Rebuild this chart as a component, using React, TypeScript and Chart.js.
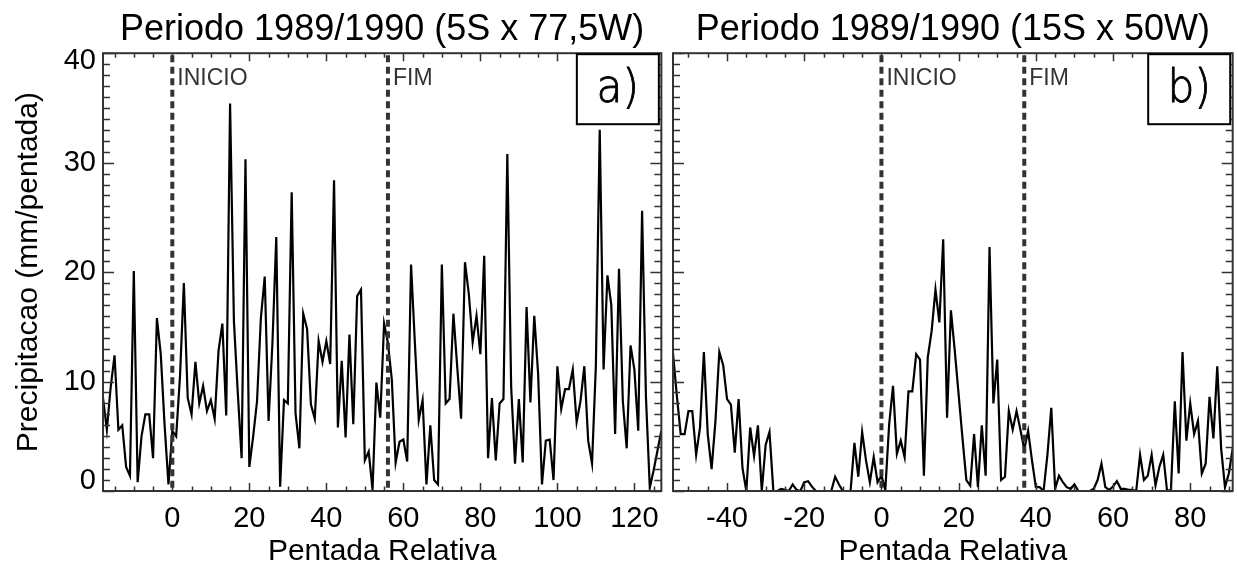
import React, { useEffect, useRef } from "react";
import { Chart, registerables } from "chart.js";

Chart.register(...registerables);

const FONT = '"Liberation Sans", Arial, Helvetica, sans-serif';

// Panel a) 5S x 77,5W : pentadas -18 .. 127
const precipA: number[] = [
  8.5, 5.6, 9.5, 12.4, 5.6, 6.0, 2.2, 1.4, 20.1, 0.8, 5.0, 7.0, 7.0, 3.0, 15.8, 12.5, 6.0, 0.6,
  5.5, 5.0, 10.5, 19.0, 8.5, 7.0, 11.8, 8.0, 9.6, 7.3,
  8.3, 6.6, 12.8, 15.3, 6.9, 35.4, 15.5, 9.0, 3.0, 30.3,
  2.2, 5.0, 8.2, 15.8, 19.6, 6.4, 13.5, 23.2, 0.4, 8.3,
  8.0, 27.3, 7.1, 3.9, 16.2, 14.8, 7.9, 6.6, 13.7, 11.8,
  13.7, 11.6, 28.4, 5.8, 11.9, 4.9, 14.3, 6.1, 17.8, 18.4,
  2.8, 3.6, 0.1, 9.9, 6.7, 15.3, 13.5, 10.2, 2.6, 4.5,
  4.7, 2.7, 20.7, 13.5, 6.5, 8.3, 0.6, 6.0, 1.0, 0.6,
  20.7, 8.0, 8.4, 16.2, 11.3, 6.6, 20.9, 18.0, 13.6, 16.0,
  12.5, 21.5, 3.0, 8.5, 2.8, 8.0, 8.4, 30.8, 9.5, 2.5,
  8.4, 2.6, 16.8, 8.1, 16.0, 10.7, 0.6, 4.6, 4.7, 1.0,
  11.4, 7.5, 9.3, 9.3, 11.1, 6.3, 8.2, 11.4, 4.6, 2.5,
  11.5, 33.0, 11.1, 19.7, 17.0, 5.2, 20.3, 8.2, 3.9, 13.3,
  11.1, 5.5, 25.6, 8.6, 0.3, 1.9, 3.7, 5.5,
];

// Panel b) 15S x 50W : pentadas -54 .. 91
const precipB: number[] = [
  12.6, 8.7, 5.2, 5.2, 7.3, 7.3, 3.3, 5.8, 12.7, 5.2,
  2.0, 6.4, 12.7, 11.5, 8.4, 7.9, 3.5, 8.4, 2.1, 0,
  5.8, 3.2, 6.0, 0, 4.2, 5.4, 0, 0, 0.2, 0.1,
  0, 0.6, 0.1, 0, 0.8, 0.9, 0.4, 0, 0, 0,
  0, 0, 1.3, 0.6, 0, 0, 0, 4.4, 1.3, 5.4,
  2.8, 0.8, 3.1, 0.8,
  1.4, 0.1, 6.1, 9.6, 3.4, 4.6, 3.1, 9.1, 9.1, 12.5,
  12.0, 1.4, 12.2, 14.6, 18.4, 15.4, 23.0, 6.7, 16.5, 12.8,
  8.8, 4.8, 1.0, 0.5, 5.2, 0.35, 6.0, 1.4, 22.3, 8.0,
  12.0, 1.0, 1.3, 7.3, 5.6, 7.3, 5.6, 3.8, 5.5, 2.8,
  0.35, 0.35, 0, 3.3, 7.6, 0.2, 1.4, 0.8, 0.35, 0.2,
  0.6, 0, 0, 0, 0, 0.2, 1.0, 2.5, 0.35, 0.1,
  0.4, 0.9, 0.2, 0.2, 0.1, 0.1, 0, 3.3, 1.0, 1.4,
  3.3, 0.5, 2.2, 3.3, 0, 0.1, 8.2, 1.6, 12.7, 4.6,
  8.0, 5.2, 6.4, 1.6, 2.5, 8.6, 4.8, 11.4, 3.9, 0.35,
  1.6, 3.9,
];

const firstPentadaA = -18;
const firstPentadaB = -54;
const pentadaA = precipA.map((_, i) => firstPentadaA + i);
const pentadaB = precipB.map((_, i) => firstPentadaB + i);

const xTicksA = [0, 20, 40, 60, 80, 100, 120];
const xTicksB = [-40, -20, 0, 20, 40, 60, 80];
const yTicks = [0, 10, 20, 30, 40];

const eventLabels = ["INICIO", "FIM"];
const eventsA = [0, 56];
const eventsB = [0, 37];

const titleA = "Periodo 1989/1990 (5S x 77,5W)";
const titleB = "Periodo 1989/1990 (15S x 50W)";
const xTitle = "Pentada Relativa";
const yTitle = "Precipitacao (mm/pentada)";
const letterA = "a)";
const letterB = "b)";

const framePlugin = {
  id: "idlFrame",
  afterDatasetsDraw(chart: any, _args: any, opts: any) {
    const { ctx, chartArea: ca, scales } = chart;
    const x = scales.x;
    const y = scales.y;
    ctx.save();

    // event dashed lines
    ctx.strokeStyle = "#333";
    ctx.lineWidth = 4;
    (opts.events as number[]).forEach((ev) => {
      const px = x.getPixelForValue(ev);
      ctx.setLineDash([7, 4.5]);
      ctx.beginPath();
      ctx.moveTo(px, ca.top + 2);
      ctx.lineTo(px, ca.bottom);
      ctx.stroke();
    });
    ctx.setLineDash([]);
    ctx.fillStyle = "#333";
    ctx.font = `23px ${FONT}`;
    ctx.textAlign = "left";
    ctx.textBaseline = "middle";
    (opts.events as number[]).forEach((ev, k) => {
      ctx.fillText(eventLabels[k], x.getPixelForValue(ev) + 5, ca.top + 25);
    });

    // frame
    ctx.strokeStyle = "#333";
    ctx.lineWidth = 2;
    ctx.strokeRect(ca.left, ca.top, ca.right - ca.left, ca.bottom - ca.top);

    // inward ticks
    ctx.lineWidth = 1.5;
    ctx.beginPath();
    for (let v = Math.ceil(x.min / 5) * 5; v <= x.max; v += 5) {
      const px = Math.round(x.getPixelForValue(v)) + 0.5;
      const len = v % 20 === 0 ? 8 : 4.5;
      ctx.moveTo(px, ca.bottom);
      ctx.lineTo(px, ca.bottom - len);
      ctx.moveTo(px, ca.top);
      ctx.lineTo(px, ca.top + len);
    }
    for (let v = Math.ceil(y.min); v <= y.max; v += 1) {
      const py = Math.round(y.getPixelForValue(v)) + 0.5;
      const len = v % 10 === 0 ? 11 : 7;
      ctx.moveTo(ca.left, py);
      ctx.lineTo(ca.left + len, py);
      ctx.moveTo(ca.right, py);
      ctx.lineTo(ca.right - len, py);
    }
    ctx.stroke();

    // y tick labels (kept inside the frame height like IDL)
    if (opts.yLabels) {
      ctx.fillStyle = "#000";
      ctx.font = `29px ${FONT}`;
      ctx.textAlign = "right";
      ctx.textBaseline = "middle";
      yTicks.forEach((v) => {
        let py = y.getPixelForValue(v);
        py = Math.min(Math.max(py, ca.top + 8), ca.bottom - 10);
        ctx.fillText(String(v), ca.left - 7, py);
      });
    }

    // panel letter box
    const bw = 82;
    const bh = 70;
    const bx = ca.right - 2.5 - bw;
    const by = ca.top + 1;
    ctx.fillStyle = "#fff";
    ctx.fillRect(bx, by, bw, bh);
    ctx.strokeStyle = "#000";
    ctx.lineWidth = 2;
    ctx.strokeRect(bx, by, bw, bh);
    ctx.fillStyle = "#000";
    ctx.strokeStyle = "#000";
    ctx.lineWidth = 0.9;
    ctx.font = '200 46px "DejaVu Sans", sans-serif';
    ctx.textAlign = "center";
    ctx.textBaseline = "middle";
    ctx.save();
    ctx.translate(bx + bw / 2, by + bh / 2 + 1);
    ctx.scale(0.92, 1);
    ctx.fillText(opts.letter, 0, 0);
    ctx.strokeText(opts.letter, 0, 0);
    ctx.restore();

    ctx.restore();
  },
};

function makeConfig(
  pentadas: number[],
  precip: number[],
  xTicks: number[],
  title: string,
  events: number[],
  letter: string,
  showY: boolean,
  padding: { left: number; right: number; top: number; bottom: number }
): any {
  return {
    type: "line",
    data: {
      datasets: [
        {
          data: precip.map((v, i) => ({ x: pentadas[i], y: v })),
          borderColor: "#000",
          borderWidth: 2.2,
          pointRadius: 0,
          tension: 0,
          fill: false,
        },
      ],
    },
    plugins: [framePlugin],
    options: {
      responsive: false,
      animation: false,
      devicePixelRatio: 1,
      layout: { padding },
      plugins: {
        legend: { display: false },
        tooltip: { enabled: false },
        title: {
          display: true,
          text: title,
          fullSize: false,
          color: "#000",
          font: { family: FONT, size: 36, weight: "normal", lineHeight: 1.2 },
          padding: { top: 8, bottom: 2 },
        },
        idlFrame: { events, letter, yLabels: showY },
      },
      scales: {
        x: {
          type: "linear",
          min: pentadas[0],
          max: pentadas[pentadas.length - 1],
          afterBuildTicks: (s: any) => {
            s.ticks = xTicks.map((v) => ({ value: v }));
          },
          afterFit: (s: any) => {
            s.height = 77;
          },
          grid: { display: false, drawTicks: false },
          border: { display: false },
          ticks: {
            color: "#000",
            font: { family: FONT, size: 29 },
            padding: 11,
            maxRotation: 0,
            autoSkip: false,
          },
          title: {
            display: true,
            text: xTitle,
            color: "#000",
            font: { family: FONT, size: 30, lineHeight: 1 },
            padding: { top: 0, bottom: 1 },
          },
        },
        y: {
          type: "linear",
          min: 0,
          max: 40,
          display: showY,
          afterFit: (s: any) => {
            s.width = showY ? 103 : 0;
          },
          grid: { display: false, drawTicks: false },
          border: { display: false },
          ticks: { display: false },
          title: {
            display: showY,
            text: yTitle,
            color: "#000",
            font: { family: FONT, size: 30, lineHeight: 1 },
            padding: { top: 14, bottom: 0 },
          },
        },
      },
    },
  };
}

export default function App() {
  const refA = useRef<HTMLCanvasElement | null>(null);
  const refB = useRef<HTMLCanvasElement | null>(null);

  useEffect(() => {
    Chart.defaults.font.family = FONT;
    const a = new Chart(
      refA.current as HTMLCanvasElement,
      makeConfig(pentadaA, precipA, xTicksA, titleA, eventsA, letterA, true, {
        left: 0,
        right: 3.3,
        top: 0,
        bottom: 0,
      })
    );
    const b = new Chart(
      refB.current as HTMLCanvasElement,
      makeConfig(pentadaB, precipB, xTicksB, titleB, eventsB, letterB, false, {
        left: 3,
        right: 5.3,
        top: 0,
        bottom: 0,
      })
    );
    return () => {
      a.destroy();
      b.destroy();
    };
  }, []);

  return (
    <div
      style={{
        position: "absolute",
        left: 0,
        top: 0,
        width: 1238,
        height: 568,
        background: "#fff",
        overflow: "hidden",
      }}
    >
      <canvas
        ref={refA}
        width={670}
        height={568}
        style={{ position: "absolute", left: 0, top: 0, width: 670, height: 568 }}
      />
      <canvas
        ref={refB}
        width={568}
        height={568}
        style={{ position: "absolute", left: 670, top: 0, width: 568, height: 568 }}
      />
    </div>
  );
}
